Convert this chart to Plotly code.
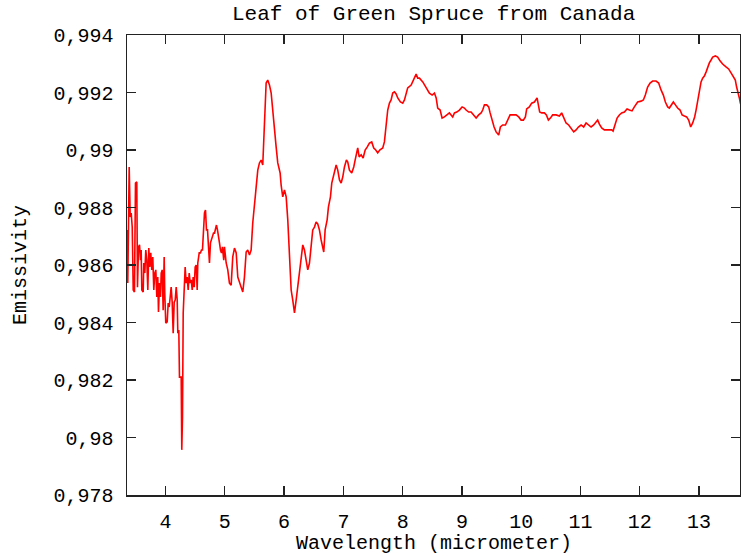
import plotly.graph_objects as go

wavelength = [
    3.352, 3.363, 3.375, 3.387, 3.404, 3.421, 3.438, 3.455, 3.476, 3.493,
    3.515, 3.527, 3.544, 3.561, 3.578, 3.589, 3.600, 3.623, 3.633, 3.650,
    3.667, 3.684, 3.701, 3.718, 3.734, 3.751, 3.768, 3.785, 3.802, 3.819,
    3.836, 3.853, 3.869, 3.881, 3.898, 3.915, 3.927, 3.944, 3.960, 3.977,
    3.987, 4.004, 4.028, 4.045, 4.062, 4.078, 4.095, 4.112, 4.129, 4.146,
    4.163, 4.180, 4.197, 4.207, 4.224, 4.235, 4.264, 4.274, 4.286, 4.298,
    4.315, 4.331, 4.348, 4.365, 4.382, 4.399, 4.416, 4.433, 4.450, 4.466,
    4.483, 4.500, 4.517, 4.534, 4.544, 4.568, 4.589, 4.606, 4.623, 4.640,
    4.657, 4.674, 4.691, 4.708, 4.724, 4.741, 4.758, 4.775, 4.792, 4.809,
    4.826, 4.842, 4.859, 4.876, 4.893, 4.910, 4.927, 4.944, 4.960, 4.982,
    4.994, 5.023, 5.050, 5.078, 5.107, 5.134, 5.163, 5.192, 5.219, 5.247,
    5.276, 5.303, 5.331, 5.360, 5.387, 5.416, 5.444, 5.471, 5.500, 5.529,
    5.556, 5.584, 5.613, 5.640, 5.669, 5.697, 5.724, 5.753, 5.782, 5.809,
    5.837, 5.866, 5.893, 5.910, 5.933, 5.950, 5.977, 6.006, 6.035, 6.062,
    6.090, 6.119, 6.146, 6.175, 6.203, 6.230, 6.259, 6.288, 6.315, 6.343,
    6.372, 6.399, 6.428, 6.456, 6.483, 6.512, 6.540, 6.567, 6.596, 6.625,
    6.647, 6.669, 6.692, 6.726, 6.748, 6.782, 6.804, 6.827, 6.849, 6.878,
    6.905, 6.934, 6.962, 6.989, 7.018, 7.051, 7.074, 7.102, 7.141, 7.175,
    7.198, 7.220, 7.242, 7.266, 7.300, 7.333, 7.367, 7.401, 7.439, 7.478,
    7.512, 7.546, 7.579, 7.613, 7.664, 7.692, 7.721, 7.748, 7.777, 7.805,
    7.832, 7.861, 7.890, 7.917, 7.962, 8.001, 8.030, 8.058, 8.085, 8.143,
    8.170, 8.198, 8.227, 8.254, 8.283, 8.339, 8.395, 8.451, 8.497, 8.536,
    8.565, 8.591, 8.632, 8.665, 8.704, 8.750, 8.788, 8.844, 8.873, 8.912,
    8.957, 9.003, 9.041, 9.070, 9.114, 9.154, 9.193, 9.239, 9.282, 9.323,
    9.350, 9.379, 9.417, 9.451, 9.475, 9.508, 9.542, 9.576, 9.620, 9.648,
    9.687, 9.733, 9.772, 9.812, 9.856, 9.913, 9.957, 9.998, 10.036, 10.070,
    10.092, 10.137, 10.176, 10.222, 10.267, 10.289, 10.311, 10.345, 10.390, 10.424,
    10.458, 10.492, 10.530, 10.588, 10.643, 10.682, 10.716, 10.756, 10.800, 10.841,
    10.885, 10.925, 10.964, 11.009, 11.053, 11.094, 11.133, 11.178, 11.222, 11.262,
    11.289, 11.318, 11.357, 11.402, 11.465, 11.525, 11.549, 11.583, 11.617, 11.655,
    11.694, 11.740, 11.785, 11.824, 11.869, 11.908, 11.964, 12.021, 12.060, 12.093,
    12.132, 12.173, 12.217, 12.274, 12.318, 12.358, 12.397, 12.431, 12.470, 12.498,
    12.527, 12.566, 12.600, 12.638, 12.679, 12.713, 12.752, 12.790, 12.824, 12.858,
    12.892, 12.925, 12.949, 12.976, 13.004, 13.033, 13.060, 13.089, 13.117, 13.144,
    13.173, 13.202, 13.229, 13.274, 13.313, 13.353, 13.397, 13.454, 13.498, 13.539,
    13.578, 13.611, 13.633, 13.657, 13.679, 13.696, 13.720,
]

emissivity = [
    0.98722, 0.98537, 0.98732, 0.98941, 0.98767, 0.98781, 0.98732, 0.98513, 0.98506, 0.98885,
    0.98889, 0.98523, 0.98663, 0.98670, 0.98617, 0.98652, 0.98513, 0.98506, 0.98607, 0.98572,
    0.98652, 0.98617, 0.98513, 0.98659, 0.98593, 0.98642, 0.98583, 0.98628, 0.98513, 0.98572,
    0.98583, 0.98489, 0.98558, 0.98437, 0.98537, 0.98489, 0.98572, 0.98583, 0.98443, 0.98628,
    0.98503, 0.98398, 0.98402, 0.98468, 0.98454, 0.98489, 0.98523, 0.98471, 0.98363, 0.98471,
    0.98478, 0.98523, 0.98478, 0.98363, 0.98374, 0.98210, 0.98210, 0.97957, 0.98071, 0.98433,
    0.98537, 0.98593, 0.98537, 0.98558, 0.98513, 0.98572, 0.98537, 0.98548, 0.98513, 0.98558,
    0.98523, 0.98593, 0.98600, 0.98513, 0.98607, 0.98642, 0.98642, 0.98652, 0.98652, 0.98722,
    0.98781, 0.98791, 0.98722, 0.98722, 0.98663, 0.98607, 0.98677, 0.98687, 0.98697, 0.98711,
    0.98711, 0.98732, 0.98739, 0.98722, 0.98687, 0.98677, 0.98652, 0.98642, 0.98663, 0.98617,
    0.98663, 0.98607, 0.98583, 0.98537, 0.98530, 0.98628, 0.98659, 0.98642, 0.98558, 0.98537,
    0.98523, 0.98506, 0.98558, 0.98645, 0.98652, 0.98635, 0.98652, 0.98746, 0.98816, 0.98885,
    0.98930, 0.98955, 0.98965, 0.98948, 0.99129, 0.99233, 0.99243, 0.99226, 0.99198, 0.99129,
    0.99080, 0.99010, 0.98955, 0.98941, 0.98920, 0.98878, 0.98837, 0.98861, 0.98837, 0.98757,
    0.98607, 0.98513, 0.98478, 0.98433, 0.98478, 0.98523, 0.98583, 0.98617, 0.98670, 0.98652,
    0.98617, 0.98583, 0.98607, 0.98659, 0.98722, 0.98732, 0.98750, 0.98743, 0.98722, 0.98687,
    0.98670, 0.98645, 0.98722, 0.98757, 0.98802, 0.98837, 0.98885, 0.98906, 0.98920, 0.98948,
    0.98930, 0.98896, 0.98885, 0.98906, 0.98941, 0.98965, 0.98958, 0.98930, 0.98920, 0.98941,
    0.98965, 0.98993, 0.99007, 0.98976, 0.98983, 0.98972, 0.99000, 0.99010, 0.99024, 0.99028,
    0.99007, 0.99000, 0.98990, 0.99000, 0.99007, 0.99028, 0.99080, 0.99139, 0.99163, 0.99174,
    0.99198, 0.99202, 0.99195, 0.99181, 0.99167, 0.99163, 0.99174, 0.99198, 0.99216, 0.99226,
    0.99237, 0.99254, 0.99264, 0.99250, 0.99250, 0.99237, 0.99216, 0.99198, 0.99191, 0.99198,
    0.99181, 0.99146, 0.99139, 0.99111, 0.99115, 0.99122, 0.99129, 0.99115, 0.99129, 0.99132,
    0.99139, 0.99150, 0.99146, 0.99139, 0.99132, 0.99132, 0.99122, 0.99111, 0.99122, 0.99129,
    0.99139, 0.99157, 0.99157, 0.99150, 0.99129, 0.99104, 0.99080, 0.99063, 0.99052, 0.99080,
    0.99087, 0.99087, 0.99104, 0.99122, 0.99122, 0.99122, 0.99115, 0.99104, 0.99104, 0.99115,
    0.99143, 0.99150, 0.99163, 0.99167, 0.99181, 0.99157, 0.99132, 0.99129, 0.99129, 0.99122,
    0.99104, 0.99111, 0.99122, 0.99122, 0.99118, 0.99129, 0.99111, 0.99094, 0.99087, 0.99077,
    0.99063, 0.99070, 0.99080, 0.99087, 0.99080, 0.99094, 0.99087, 0.99080, 0.99087, 0.99097,
    0.99104, 0.99090, 0.99077, 0.99070, 0.99070, 0.99070, 0.99066, 0.99087, 0.99111, 0.99122,
    0.99129, 0.99132, 0.99143, 0.99139, 0.99136, 0.99150, 0.99167, 0.99170, 0.99174, 0.99191,
    0.99219, 0.99233, 0.99240, 0.99240, 0.99233, 0.99209, 0.99191, 0.99167, 0.99150, 0.99146,
    0.99157, 0.99167, 0.99157, 0.99146, 0.99139, 0.99122, 0.99118, 0.99115, 0.99104, 0.99080,
    0.99094, 0.99115, 0.99139, 0.99174, 0.99209, 0.99237, 0.99250, 0.99257, 0.99271, 0.99289,
    0.99303, 0.99313, 0.99323, 0.99327, 0.99323, 0.99310, 0.99299, 0.99289, 0.99282, 0.99268,
    0.99254, 0.99243, 0.99219, 0.99202, 0.99181, 0.99163, 0.99150,
]

x_ticks = [4, 5, 6, 7, 8, 9, 10, 11, 12, 13]
y_ticks = [0.978, 0.980, 0.982, 0.984, 0.986, 0.988, 0.990, 0.992, 0.994]
y_tick_labels = ["0,978", "0,98", "0,982", "0,984", "0,986", "0,988", "0,99", "0,992", "0,994"]

FONT = "Liberation Mono, Courier New, monospace"
TXT = dict(family=FONT, size=20, color="#000000")

fig = go.Figure()
fig.add_trace(go.Scatter(
    x=wavelength, y=emissivity, mode="lines",
    line=dict(color="#ff0000", width=1.6),
    showlegend=False, hoverinfo="skip",
))

axis_common = dict(
    showline=True, linecolor="#222222", linewidth=1.5, mirror="ticks",
    ticks="inside", ticklen=9, tickwidth=1.3, tickcolor="#222222",
    showgrid=False, zeroline=False, automargin=False,
    tickfont=TXT,
)

fig.update_layout(
    width=741, height=557,
    margin=dict(l=127, r=1, t=35, b=62, autoexpand=False),
    paper_bgcolor="white", plot_bgcolor="white",
    xaxis=dict(range=[3.35, 13.69], tickvals=x_ticks, ticktext=[str(t) for t in x_ticks],
               ticklabelstandoff=7, **axis_common),
    yaxis=dict(range=[0.978, 0.994], tickvals=y_ticks, ticktext=y_tick_labels,
               ticklabelstandoff=8, **axis_common),
    annotations=[
        dict(text="Leaf of Green Spruce from Canada", xref="paper", yref="paper",
             x=0.5, y=1, xanchor="center", yanchor="middle", yshift=21,
             showarrow=False, font=dict(family=FONT, size=21, color="#000000")),
        dict(text="Wavelength (micrometer)", xref="paper", yref="paper",
             x=0.5, y=0, xanchor="center", yanchor="middle", yshift=-48,
             showarrow=False, font=TXT),
        dict(text="Emissivity", xref="paper", yref="paper", textangle=-90,
             x=0, y=0.5, xanchor="center", yanchor="middle", xshift=-107,
             showarrow=False, font=TXT),
    ],
)

# remove the page's default 8px body margin so the figure fills the window
fig.write_html("out.html",
               config={"displayModeBar": False, "staticPlot": True},
               post_script="document.body.style.margin='0';document.body.style.overflow='hidden';")
